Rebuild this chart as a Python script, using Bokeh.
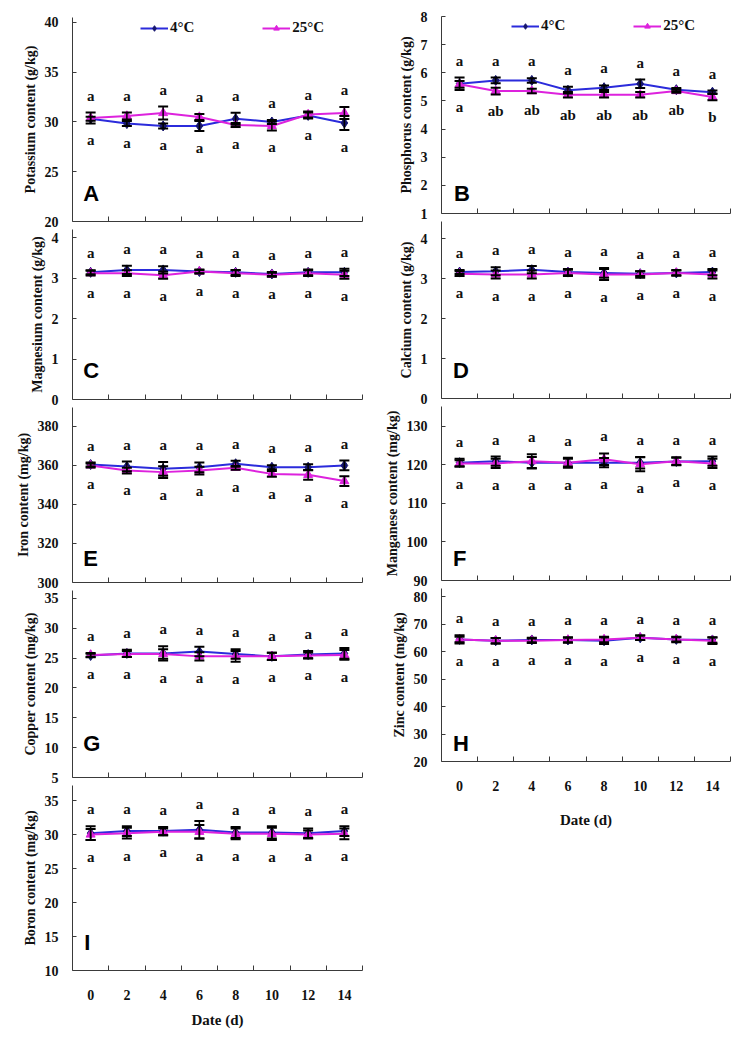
from bokeh.plotting import figure
from bokeh.models import (Range1d, FixedTicker, ColumnDataSource, Whisker, TeeHead,
                          Legend, LegendItem, Label)
from bokeh.layouts import row, column
from bokeh.embed import file_html
from bokeh.resources import INLINE
from bokeh.core.properties import value

# ---------------- data ----------------
days = [0, 2, 4, 6, 8, 10, 12, 14]
day_labels = ["0", "2", "4", "6", "8", "10", "12", "14"]
series_names = ["4°C", "25°C"]

K_4C = [30.33, 29.84, 29.6, 29.6, 30.33, 30.0, 30.66, 29.9]
K_25C = [30.4, 30.6, 30.9, 30.5, 29.7, 29.6, 30.75, 30.9]
K_err_4C = [0.2, 0.25, 0.25, 0.5, 0.6, 0.2, 0.3, 0.7]
K_err_25C = [0.55, 0.35, 0.65, 0.3, 0.2, 0.45, 0.3, 0.6]
K_sig_4C = ["a"] * 8
K_sig_25C = ["a"] * 8

P_4C = [5.61, 5.73, 5.73, 5.38, 5.47, 5.61, 5.40, 5.31]
P_25C = [5.59, 5.35, 5.35, 5.22, 5.22, 5.22, 5.35, 5.14]
P_err_4C = [0.22, 0.1, 0.08, 0.12, 0.08, 0.15, 0.06, 0.06]
P_err_25C = [0.12, 0.12, 0.08, 0.1, 0.1, 0.1, 0.06, 0.12]
P_sig_4C = ["a"] * 8
P_sig_25C = ["a", "ab", "ab", "ab", "ab", "ab", "ab", "b"]

Mg_4C = [3.14, 3.2, 3.2, 3.16, 3.14, 3.1, 3.14, 3.14]
Mg_25C = [3.12, 3.12, 3.07, 3.16, 3.12, 3.08, 3.12, 3.08]
Mg_err_4C = [0.05, 0.1, 0.09, 0.04, 0.06, 0.05, 0.07, 0.09]
Mg_err_25C = [0.06, 0.07, 0.09, 0.05, 0.07, 0.05, 0.07, 0.1]
Mg_sig_4C = ["a"] * 8
Mg_sig_25C = ["a"] * 8

Ca_4C = [3.16, 3.18, 3.22, 3.16, 3.14, 3.12, 3.14, 3.16]
Ca_25C = [3.12, 3.1, 3.1, 3.14, 3.1, 3.1, 3.14, 3.1]
Ca_err_4C = [0.05, 0.1, 0.09, 0.08, 0.12, 0.06, 0.06, 0.08]
Ca_err_25C = [0.06, 0.1, 0.1, 0.08, 0.14, 0.08, 0.07, 0.1]
Ca_sig_4C = ["a"] * 8
Ca_sig_25C = ["a"] * 8

Fe_4C = [360.5, 359.5, 358.3, 359.1, 360.9, 359.1, 359.1, 360.0]
Fe_25C = [360.0, 357.4, 356.6, 357.4, 358.8, 355.7, 355.2, 352.0]
Fe_err_4C = [1.0, 2.5, 3.5, 2.5, 1.5, 1.0, 1.5, 2.5]
Fe_err_25C = [1.0, 1.5, 3.0, 2.0, 1.0, 1.5, 2.5, 2.5]
Fe_sig_4C = ["a"] * 8
Fe_sig_25C = ["a"] * 8

Mn_4C = [120.6, 121.0, 120.6, 120.6, 120.6, 120.6, 120.9, 121.0]
Mn_25C = [120.4, 120.4, 121.0, 120.6, 121.5, 120.2, 121.0, 120.4]
Mn_err_4C = [1.0, 1.2, 1.5, 1.3, 1.2, 1.5, 1.0, 1.2]
Mn_err_25C = [0.8, 1.2, 1.8, 1.0, 1.5, 1.8, 1.0, 1.2]
Mn_sig_4C = ["a"] * 8
Mn_sig_25C = ["a"] * 8

Cu_4C = [25.45, 25.8, 25.8, 26.1, 25.7, 25.3, 25.6, 25.8]
Cu_25C = [25.55, 25.7, 25.7, 25.3, 25.3, 25.3, 25.45, 25.55]
Cu_err_4C = [0.3, 0.6, 1.2, 0.8, 0.8, 0.6, 0.6, 0.9]
Cu_err_25C = [0.3, 0.5, 0.8, 0.7, 0.9, 0.6, 0.5, 0.8]
Cu_sig_4C = ["a"] * 8
Cu_sig_25C = ["a"] * 8

Zn_4C = [64.4, 63.9, 64.2, 64.2, 63.9, 65.0, 64.4, 64.2]
Zn_25C = [64.4, 63.9, 63.9, 64.2, 64.4, 65.0, 64.4, 63.9]
Zn_err_4C = [1.5, 1.0, 0.8, 1.0, 1.2, 0.8, 1.0, 1.0]
Zn_err_25C = [1.0, 1.0, 0.8, 0.8, 1.0, 0.8, 0.8, 1.2]
Zn_sig_4C = ["a"] * 8
Zn_sig_25C = ["a"] * 8

Bo_4C = [30.2, 30.5, 30.5, 30.7, 30.3, 30.3, 30.2, 30.5]
Bo_25C = [30.0, 30.2, 30.4, 30.4, 30.1, 30.1, 30.0, 30.1]
Bo_err_4C = [1.0, 0.7, 0.6, 1.3, 0.8, 0.9, 0.7, 0.7]
Bo_err_25C = [0.8, 0.8, 0.5, 1.0, 0.8, 0.9, 0.6, 0.8]
Bo_sig_4C = ["a"] * 8
Bo_sig_25C = ["a"] * 8

# ---------------- styles ----------------
BLUE = "#2B2BDB"
NAVY = "#16166E"
MAGENTA = "#DD22DD"
AXIS = "#3a3a3a"
SERIF = "Liberation Serif"
SANS = "Liberation Sans"


def panel(v4, e4, v25, e25, sig_top, sig_bot, y_start, y_end, y_ticks, ylabel,
          letter, letter_xy, frame_h, b_top, b_bottom, b_left, b_right,
          show_x=False, xlabel_standoff=6, legend_xy=None):
    width = 376
    height = b_top + frame_h + b_bottom
    p = figure(width=width, height=height, x_range=Range1d(-1, 15),
               y_range=Range1d(y_start, y_end), output_backend="svg",
               toolbar_location=None, min_border_left=b_left,
               min_border_right=b_right, min_border_top=b_top,
               min_border_bottom=b_bottom)
    p.outline_line_color = None
    p.grid.visible = False
    p.background_fill_color = "white"
    p.border_fill_color = "white"

    # y axis
    ya = p.yaxis[0]
    ya.ticker = FixedTicker(ticks=y_ticks)
    ya.axis_line_color = AXIS
    ya.major_tick_line_color = AXIS
    ya.major_tick_in = 4
    ya.major_tick_out = 0
    ya.minor_tick_line_color = None
    ya.major_label_standoff = 14
    ya.major_label_text_font = SERIF
    ya.major_label_text_font_style = "bold"
    ya.major_label_text_font_size = "14px"
    ya.major_label_text_color = "#111111"
    ya.axis_label = ylabel
    ya.axis_label_text_font = SERIF
    ya.axis_label_text_font_style = "bold"
    ya.axis_label_text_font_size = "14px"
    ya.axis_label_text_color = "#111111"
    ya.axis_label_standoff = 4

    # x axis: labels at day centres, tick marks at the category boundaries
    xa = p.xaxis[0]
    xa.ticker = FixedTicker(ticks=days, minor_ticks=[d + 1 for d in days])
    xa.axis_line_color = AXIS
    xa.major_tick_line_color = None
    xa.major_tick_in = 0
    xa.major_tick_out = 0
    xa.minor_tick_line_color = AXIS
    xa.minor_tick_in = 5
    xa.minor_tick_out = 0
    if show_x:
        xa.major_label_overrides = {d: l for d, l in zip(days, day_labels)}
        xa.major_label_standoff = 19
        xa.major_label_text_font = SERIF
        xa.major_label_text_font_style = "bold"
        xa.major_label_text_font_size = "14px"
        xa.major_label_text_color = "#111111"
        xa.axis_label = "Date (d)"
        xa.axis_label_text_font = SERIF
        xa.axis_label_text_font_style = "bold"
        xa.axis_label_text_font_size = "15px"
        xa.axis_label_text_color = "#111111"
        xa.axis_label_standoff = xlabel_standoff
    else:
        xa.major_label_text_font_size = "0px"
        xa.major_label_standoff = 0
        xa.major_label_overrides = {d: "" for d in days}

    l4 = p.line(days, v4, line_color=BLUE, line_width=2)
    l25 = p.line(days, v25, line_color=MAGENTA, line_width=2)

    for v, e in ((v4, e4), (v25, e25)):
        src = ColumnDataSource(dict(x=days, upper=[a + b for a, b in zip(v, e)],
                                    lower=[a - b for a, b in zip(v, e)]))
        w = Whisker(source=src, base="x", upper="upper", lower="lower",
                    line_color="black", line_width=1.5, level="glyph",
                    upper_head=TeeHead(size=10, line_color="black", line_width=2),
                    lower_head=TeeHead(size=10, line_color="black", line_width=2))
        p.add_layout(w)

    s4 = p.scatter(days, v4, marker="diamond", size=10, fill_color=NAVY,
                   line_color=NAVY)
    s25 = p.scatter(days, v25, marker="triangle", size=9, fill_color=MAGENTA,
                    line_color=MAGENTA)

    top_y = [max(a + b, c + d) for a, b, c, d in zip(v4, e4, v25, e25)]
    bot_y = [min(a - b, c - d) for a, b, c, d in zip(v4, e4, v25, e25)]
    p.text(x=days, y=top_y, text=sig_top, text_align="center",
           text_baseline="bottom", y_offset=-9, text_font=value(SERIF),
           text_font_style="bold", text_font_size="15px", text_color="#111111")
    p.text(x=days, y=bot_y, text=sig_bot, text_align="center",
           text_baseline="top", y_offset=9, text_font=value(SERIF),
           text_font_style="bold", text_font_size="15px", text_color="#111111")

    p.add_layout(Label(x=letter_xy[0], y=letter_xy[1], text=letter,
                       text_font=SANS, text_font_style="bold",
                       text_font_size="22px", text_baseline="middle",
                       text_align="left", text_color="black"))

    if legend_xy is not None:
        leg = Legend(items=[LegendItem(label=series_names[0], renderers=[l4, s4]),
                            LegendItem(label=series_names[1], renderers=[l25, s25])],
                     orientation="horizontal", location=legend_xy,
                     background_fill_alpha=0, border_line_color=None,
                     padding=0, margin=0, spacing=68, glyph_width=28,
                     glyph_height=14, label_height=14, label_standoff=2,
                     label_text_font=SERIF, label_text_font_style="bold",
                     label_text_font_size="15px", label_text_color="#111111")
        p.add_layout(leg)
    return p


# left column
pA = panel(K_4C, K_err_4C, K_25C, K_err_25C, K_sig_4C, K_sig_25C, 20, 40.5,
           [20, 25, 30, 35, 40], "Potassium content (g/kg)", "A", (-0.41, 22.8),
           204, 17, 8, 72, 8, legend_xy=(68, 185))
pC = panel(Mg_4C, Mg_err_4C, Mg_25C, Mg_err_25C, Mg_sig_4C, Mg_sig_25C, 0, 4.198,
           [0, 1, 2, 3, 4], "Magnesium content (g/kg)", "C", (-0.41, 0.72),
           170, 0, 8, 72, 14)
pE = panel(Fe_4C, Fe_err_4C, Fe_25C, Fe_err_25C, Fe_sig_4C, Fe_sig_25C, 300, 389.74,
           [300, 320, 340, 360, 380], "Iron content (mg/kg)", "E", (-0.41, 312.3),
           175, 0, 8, 72, 13)
pG = panel(Cu_4C, Cu_err_4C, Cu_25C, Cu_err_25C, Cu_sig_4C, Cu_sig_25C, 5, 36.34,
           [5, 10, 15, 20, 25, 30, 35], "Copper content (mg/kg)", "G", (-0.41, 10.7),
           187, 0, 8, 72, 3)
pI = panel(Bo_4C, Bo_err_4C, Bo_25C, Bo_err_25C, Bo_sig_4C, Bo_sig_25C, 10, 37.21,
           [10, 15, 20, 25, 30, 35], "Boron content (mg/kg)", "I", (-0.35, 14.1),
           185, 0, 62, 72, 4, show_x=True, xlabel_standoff=9)

# right column
pB = panel(P_4C, P_err_4C, P_25C, P_err_25C, P_sig_4C, P_sig_25C, 1, 8,
           [1, 2, 3, 4, 5, 6, 7, 8], "Phosphorus content (g/kg)", "B", (-0.31, 1.71),
           197, 16, 8, 65, 9, legend_xy=(70, 179))
pD = panel(Ca_4C, Ca_err_4C, Ca_25C, Ca_err_25C, Ca_sig_4C, Ca_sig_25C, 0, 4.425,
           [0, 1, 2, 3, 4], "Calcium content (g/kg)", "D", (-0.36, 0.7),
           177, 0, 8, 65, 15)
pF = panel(Mn_4C, Mn_err_4C, Mn_25C, Mn_err_25C, Mn_sig_4C, Mn_sig_25C, 90, 135.19,
           [90, 100, 110, 120, 130], "Manganese content (mg/kg)", "F", (-0.36, 95.7),
           174, 0, 8, 65, 22)
pH = panel(Zn_4C, Zn_err_4C, Zn_25C, Zn_err_25C, Zn_sig_4C, Zn_sig_25C, 20, 82.91,
           [20, 30, 40, 50, 60, 70, 80], "Zinc content (mg/kg)", "H", (-0.36, 26.5),
           173, 0, 72, 65, 9, show_x=True, xlabel_standoff=18)

layout = row(column(pA, pC, pE, pG, pI, spacing=0),
             column(pB, pD, pF, pH, spacing=0), spacing=0)

with open("out.html", "w") as f:
    f.write(file_html(layout, INLINE))
